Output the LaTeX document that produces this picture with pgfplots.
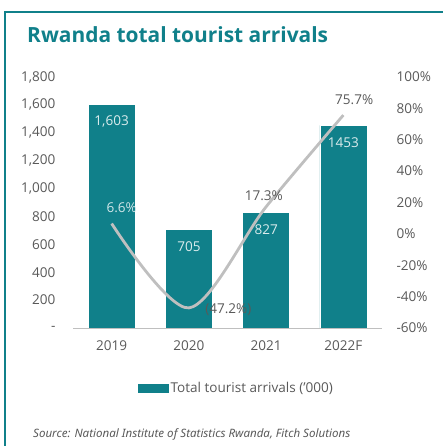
\documentclass[border=0pt]{standalone}
\usepackage{pgfplots}
\pgfplotsset{compat=1.18}
\usepackage{fontspec}
\setmainfont{Open Sans}
\newfontfamily\srcfont{Noto Sans}
\definecolor{tealbar}{RGB}{16,128,138}
\definecolor{txtgray}{RGB}{89,89,89}
\definecolor{linegray}{RGB}{191,191,191}
\newcommand\lblfont{\fontsize{13.6}{16}\selectfont}
\begin{document}
\begin{tikzpicture}
\path[use as bounding box] (0bp,0bp) rectangle (443bp,446bp);
% frame and title (y measured from bottom: 446 - pixel row)
\draw[tealbar, line width=1.8bp] (5bp,0bp) -- (5bp,434bp) -- (443bp,434bp);
\node[anchor=base west, inner sep=0, text=tealbar, font=\fontsize{21}{25}\selectfont\bfseries] at (27bp,403bp) {Rwanda total tourist arrivals};

% bars, left axis
\begin{axis}[
    at={(73bp,118bp)}, anchor=south west,
    scale only axis, width=309bp, height=251bp,
    xmin=-0.5, xmax=3.5, ymin=0, ymax=1800,
    xtick={0,1,2,3}, xticklabels={2019,2020,2021,2022F},
    ytick={0,200,...,1800},
    yticklabels={-,200,400,600,800,{1,000},{1,200},{1,400},{1,600},{1,800}},
    axis x line*=bottom, axis y line*=left,
    axis line style={-},
    x axis line style={linegray, line width=1bp},
    y axis line style={draw=none},
    major tick length=0,
    tick label style={font=\lblfont, text=txtgray},
    yticklabel style={xshift=-14bp},
    xticklabel style={yshift=-9bp},
    ybar, bar width=47bp,
    nodes near coords, point meta=explicit symbolic,
    nodes near coords style={anchor=center, yshift=-17bp, text=white!85!tealbar,
        font=\lblfont},
    legend style={at={(axis description cs:0.21,-0.239)}, anchor=west,
        draw=none, fill=none, inner sep=0,
        font=\lblfont, text=txtgray},
    legend image code/.code={\fill[tealbar] (0bp,-4bp) rectangle (30bp,4bp);},
]
\addplot[fill=tealbar, draw=white, line width=0.5bp] coordinates {
    (0,1603) [1,603]
    (1,705) [705]
    (2,827) [827]
    (3,1453) [1453]
};
\addlegendentry{Total tourist arrivals ('000)}
\end{axis}

% growth line, right axis
\begin{axis}[
    at={(73bp,118bp)}, anchor=south west,
    scale only axis, width=309bp, height=251bp,
    xmin=-0.5, xmax=3.5, ymin=-60, ymax=100,
    ytick={-60,-40,...,100},
    yticklabel={\pgfmathprintnumber{\tick}\%},
    /pgf/number format/assume math mode=true,
    axis x line=none, axis y line*=right,
    y axis line style={draw=none},
    major tick length=0,
    tick label style={font=\lblfont, text=txtgray},
    yticklabel style={xshift=11bp},
]
\addplot[linegray, line width=2.8bp, smooth, tension=0.5] coordinates {
    (0,6.6) (1,-47.2) (2,17.3) (3,75.7)
};
\node[text=white!80!tealbar, font=\lblfont] at (axis cs:0.13,16.6) {6.6\%};
\node[text=txtgray, font=\lblfont] at (axis cs:1.51,-48.4) {(47.2\%)};
\node[text=txtgray, font=\lblfont] at (axis cs:1.97,24.2) {17.3\%};
\node[text=txtgray, font=\lblfont] at (axis cs:3.14,85.4) {75.7\%};
\end{axis}

\node[anchor=base west, inner sep=0, text=txtgray, font=\srcfont\fontsize{11.6}{13}\selectfont\itshape] at (33bp,9bp) {Source: National Institute of Statistics Rwanda, Fitch Solutions};
\end{tikzpicture}
\end{document}
